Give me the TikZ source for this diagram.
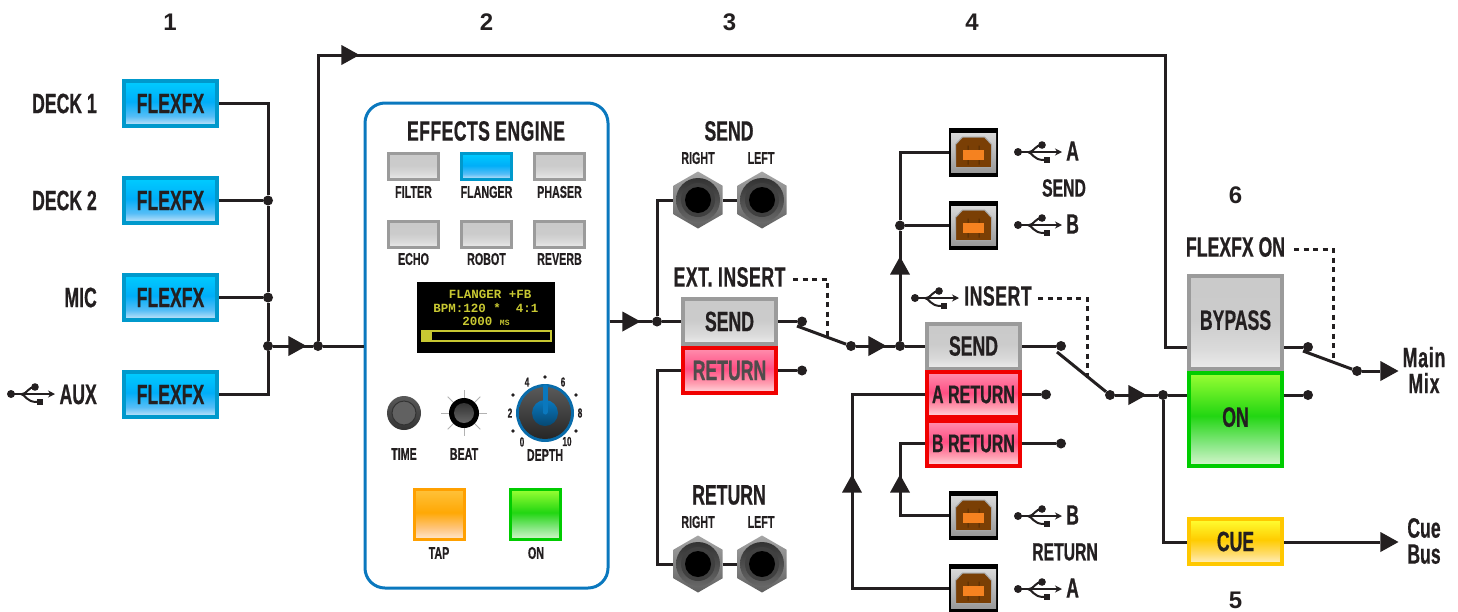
\documentclass[tikz,border=0pt]{standalone}
\usepackage{fontspec}
\usetikzlibrary{shapes.geometric,arrows.meta}
\setmainfont{Liberation Sans}[FakeStretch=0.63,BoldFeatures={FakeBold=0.6}]
\newfontfamily\numfont{Liberation Sans}
\newfontfamily\lcdfont{Liberation Mono}

\definecolor{ink}{HTML}{231F20}
\definecolor{panelblue}{HTML}{0A78BE}
\definecolor{lcdtext}{HTML}{C8C832}
\definecolor{blueedge}{HTML}{0099CC}
\definecolor{grayedge}{HTML}{9B9B9B}
\definecolor{rededge}{HTML}{F00000}
\definecolor{greenedge}{HTML}{00CC00}
\definecolor{orangeedge}{HTML}{FFA000}
\definecolor{yellowedge}{HTML}{FFC800}
\definecolor{plugbrown}{HTML}{7A3F05}
\definecolor{plugtab}{HTML}{F58220}

\newcommand{\glossdef}[5]{%
  \definecolor{#1a}{HTML}{#2}\definecolor{#1b}{HTML}{#3}\definecolor{#1c}{HTML}{#4}\definecolor{#1d}{HTML}{#5}%
  \pgfdeclareverticalshading{gloss#1}{100bp}{color(0bp)=(#1a); color(26bp)=(#1a); color(36bp)=(#1b); color(52bp)=(#1c); color(75bp)=(#1d); color(100bp)=(#1d)}}
\glossdef{blue}{C5E4F8}{55BDF7}{00AEF8}{00CCFF}
\glossdef{gray}{EAEAEA}{DADADA}{CBCBCB}{CACACA}
\glossdef{red}{FFD6DC}{FF9DB0}{FF4F84}{FF8FAE}
\glossdef{green}{D0F5C8}{8CE888}{22D612}{99FF33}
\glossdef{orange}{FFE6CC}{FFC680}{FFA805}{FFC23A}
\glossdef{yellow}{FFF0C0}{FFDD70}{FFCC00}{FFFF33}

\begin{document}
\begin{tikzpicture}[x=1pt,y=-1pt,
    wire/.style={draw=ink,line width=3pt},
    ctrl/.style={draw=ink,line width=3pt,dash pattern=on 5pt off 4.5pt},
    joint/.style={circle,fill=ink,inner sep=0pt,minimum size=10pt},
    tri/.style={isosceles triangle,isosceles triangle stretches,fill=ink,inner sep=0pt,minimum width=20pt,minimum height=18pt,anchor=apex},
    button/.style={draw=#1edge,shade,shading=gloss#1,line width=4pt,inner sep=0pt,text=ink,font=\bfseries\fontsize{28}{30}\selectfont},
    wide/.style={minimum width=93pt,minimum height=45pt},
    tall/.style={minimum width=93pt,minimum height=93pt,text depth=5pt},
    pad/.style={line width=3pt,minimum width=50pt,minimum height=26pt},
    big/.style={line width=3pt,minimum width=50pt,minimum height=50pt},
    title/.style={text=ink,inner sep=0pt,font=\bfseries\fontsize{28}{30}\selectfont},
    tiny/.style={text=ink,inner sep=0pt,font=\bfseries\fontsize{17}{18}\selectfont},
    num/.style={text=ink,inner sep=0pt,font=\numfont\bfseries\fontsize{24}{26}\selectfont},
    lcd/.style={text=lcdtext,inner sep=0pt,font=\lcdfont\bfseries\fontsize{12.5}{14}\selectfont},
    jack/.style={regular polygon,regular polygon sides=6,shape border rotate=30,minimum size=57pt,inner sep=0pt,outer sep=0pt,shade,top color=gray!70,bottom color=gray!75!black},
    usbport/.style={fill=black,minimum size=49pt,inner sep=0pt,outer sep=0pt},
    jackface/.pic={
      \shade[top color=black!80,bottom color=black!60] (0,0) circle (22);
      \fill[black!75] (0,0) circle (17);
      \fill[black] (0,0) circle (13);
    },
    usbface/.pic={
      \shade[top color=black!15,bottom color=black!40] (-22.5,-19.5) rectangle (22.5,19.5);
      \fill[fill=plugbrown,draw=black!35,line width=1pt] (-18,15) -- (-18,-8) -- (-11,-15.5) -- (11,-15.5) -- (18,-8) -- (18,15) -- cycle;
      \fill[plugbrown!70!black] (-6,-7) rectangle (-5,12) (5,-7) rectangle (6,12);
      \fill[plugtab] (-10.5,-3) rectangle (10.5,7);
    },
    usbicon/.pic={
      \fill[ink] (0,0) circle (4);
      \draw[ink,line width=2pt,-{Stealth[length=7pt,width=7pt]}] (0,0) -- (44,0);
      \draw[ink,line width=2pt] (11,0) .. controls (16,0) and (17,-7) .. (24,-7);
      \draw[ink,line width=2pt] (10,0) .. controls (15,1) and (15,8) .. (26,8);
      \fill[ink] (24,-7) circle (3.8);
      \fill[ink] (26,5) rectangle (32,11);
    }]
  \useasboundingbox (0,0) rectangle (1458,611);

  % numbers
  \node[num] (numA) at (170,22) {1};
  \node[num] (numB) at (486.5,22) {2};
  \node[num] (numC) at (729.5,22) {3};
  \node[num] (numD) at (972,22) {4};
  \node[num] (numF) at (1235.5,195) {6};
  \node[num] (numE) at (1235.5,600) {5};

  % inputs
  \foreach \n/\t/\y in {A/DECK 1/103.5,B/DECK 2/200.5,C/MIC/297.5,D/AUX/394.5}{
    \node[button=blue,wide] (flex\n) at (170.5,\y) {FLEXFX};
    \node[title,anchor=east] (in\n) at (97,\y) {\t};
  }
  \pic at (11,394) {usbicon};

  % effects panel
  \node[draw=panelblue,line width=3pt,rounded corners=20pt,minimum width=243pt,minimum height=485pt,inner sep=0pt] (engine) at (486.5,345.5) {};
  \node[title] (engineTitle) at (486,131) {\addfontfeature{LetterSpace=1.5}EFFECTS ENGINE};
  \foreach \n/\c/\x/\y/\ly in {FILTER/gray/413.5/166.5/192,FLANGER/blue/486.5/166.5/192,PHASER/gray/559.5/166.5/192,ECHO/gray/413.5/234.5/259,ROBOT/gray/486.5/234.5/259,REVERB/gray/559.5/234.5/259}{
    \node[button=\c,pad] (pad\n) at (\x,\y) {};
    \node[tiny] (lbl\n) at (\x,\ly) {\n};
  }

  % display
  \node[fill=black,minimum width=138pt,minimum height=71pt,inner sep=0pt] (screen) at (486,317.5) {};
  \node[lcd] (lcdA) at (490,294) {FLANGER +FB};
  \node[lcd] (lcdB) at (486,308) {BPM:120 *\ \ 4:1};
  \node[lcd] (lcdC) at (486,321) {2000 {\fontsize{8}{9}\selectfont MS}};
  \draw[lcdtext,line width=1.2pt] (422,331) rectangle (551,341);
  \fill[lcdtext] (422,331) rectangle (432,341);

  % knobs
  \shade[top color=black!65,bottom color=black!80] (404,413) circle (17);
  \draw[black!80,fill=black!62,line width=1pt] (404,413) circle (12);
  \foreach \a in {0,45,...,315}{
    \draw[black!30,line width=1pt] (464,413) -- ++(\a:23);
  }
  \fill[black] (464,413) circle (15);
  \shade[top color=black!80,bottom color=black!60] (464,413) circle (10);
  \fill[panelblue!90!black] (545,413) circle (29);
  \shade[top color=black!65,bottom color=black!85] (545,413) circle (26);
  \shade[top color=panelblue,bottom color=panelblue!60!black] (545,413) circle (13);
  \draw[panelblue,line width=5pt,line cap=round] (545,412) -- (545,387);
  \foreach \x/\y in {545/377,513/395,576/395,513/431,576/431}{
    \fill[ink] (\x,\y) circle (1.8);
  }
  \foreach \t/\x/\y in {0/522/442,2/510/413,4/527/382,6/563/382,8/580/413,10/567/441.5}{
    \node[tiny,font=\bfseries\fontsize{13}{15}\selectfont] (tick\t) at (\x,\y) {\t};
  }
  \node[tiny] (lblTime) at (404,454) {TIME};
  \node[tiny] (lblBeat) at (464,454) {BEAT};
  \node[tiny] (lblDepth) at (545,455) {DEPTH};

  \node[button=orange,big] (padTap) at (439.5,514.5) {};
  \node[button=green,big] (padOn) at (535.5,514.5) {};
  \node[tiny] (lblTap) at (439,553) {TAP};
  \node[tiny] (lblOn) at (536,553) {ON};

  % external insert
  \node[title] (sendTitle) at (729,131) {SEND};
  \node[tiny] (sendR) at (698,158) {RIGHT};
  \node[tiny] (sendL) at (761,158) {LEFT};
  \node[jack] (jackSR) at (698,200) {};
  \node[jack] (jackSL) at (762,200) {};
  \node[title] (retTitle) at (729,495) {RETURN};
  \node[tiny] (retR) at (698,522) {RIGHT};
  \node[tiny] (retL) at (761,522) {LEFT};
  \node[jack] (jackRR) at (698,564) {};
  \node[jack] (jackRL) at (762,564) {};
  \foreach \n in {jackSR,jackSL,jackRR,jackRL}{
    \pic at (\n) {jackface};
  }
  \node[title] (extLbl) at (729.5,277) {\addfontfeature{LetterSpace=2}EXT. INSERT};
  \node[button=gray,wide] (extSend) at (729.5,321.5) {SEND};
  \node[button=red,wide,text=ink!80] (extRet) at (729.5,370.5) {RETURN};

  % usb insert
  \foreach \n/\y in {SA/152.5,SB/225.5,RB/515.5,RA/588.5}{
    \node[usbport] (usb\n) at (973.5,\y) {};
    \pic at (usb\n) {usbface};
  }
  \pic at (1018,152) {usbicon};
  \pic at (1018,225) {usbicon};
  \pic at (1018,516) {usbicon};
  \pic at (1018,589) {usbicon};
  \pic at (915,298) {usbicon};
  \node[title,anchor=west] (usbSAlbl) at (1066,151) {A};
  \node[title,anchor=west] (usbSBlbl) at (1066,224) {B};
  \node[title,anchor=west] (usbRBlbl) at (1066,515) {B};
  \node[title,anchor=west] (usbRAlbl) at (1066,588) {A};
  \node[title,font=\bfseries\fontsize{25}{26}\selectfont] (usbSend) at (1064,188) {SEND};
  \node[title,font=\bfseries\fontsize{25}{26}\selectfont] (usbRet) at (1065,552) {RETURN};
  \node[title,anchor=west] (insLbl) at (964,296) {\addfontfeature{LetterSpace=2}INSERT};
  \node[button=gray,wide] (insSend) at (973.5,346) {SEND};
  \node[button=red,wide,font=\bfseries\fontsize{25.5}{28}\selectfont] (insA) at (973.5,394.5) {A RETURN};
  \node[button=red,wide,font=\bfseries\fontsize{25.5}{28}\selectfont] (insB) at (973.5,443.5) {B RETURN};

  % output section
  \node[title] (fxLbl) at (1235.5,247) {FLEXFX ON};
  \node[button=gray,tall] (bypass) at (1235.5,322.5) {BYPASS};
  \node[button=green,tall] (fxOn) at (1235.5,419.5) {ON};
  \node[button=yellow,wide] (cue) at (1235.5,541.5) {CUE};
  \node[title,align=center,font=\bfseries\fontsize{28}{26}\selectfont] (mainLbl) at (1424,370) {\addfontfeature{LetterSpace=3}Main\\\addfontfeature{LetterSpace=3}Mix};
  \node[title,align=center,font=\bfseries\fontsize{28}{26}\selectfont] (cueLbl) at (1424,541) {Cue\\Bus};

  % joints
  \node[joint] (jb) at (268,200.5) {};
  \node[joint] (jc) at (268,297.5) {};
  \node[joint] (jm) at (268,346) {};
  \node[joint] (js) at (318,346) {};
  \node[joint] (jf) at (657,321.5) {};
  \node[joint] (extTop) at (802,321.5) {};
  \node[joint] (extBot) at (802,370.5) {};
  \node[joint] (swA) at (851,346) {};
  \node[joint] (jd) at (900,346) {};
  \node[joint] (je) at (900,225.5) {};
  \node[joint] (insTop) at (1061,346) {};
  \node[joint] (insMid) at (1046,394.5) {};
  \node[joint] (insBot) at (1061,443.5) {};
  \node[joint] (swB) at (1110,395) {};
  \node[joint] (jo) at (1163,395) {};
  \node[joint] (fxTop) at (1308,347) {};
  \node[joint] (fxBot) at (1308,395) {};
  \node[joint] (swC) at (1357,371) {};

  % triangles
  \node[tri] (triIn) at (307,346) {};
  \node[tri] (triTop) at (360,55) {};
  \node[tri] (triOut) at (641,321.5) {};
  \node[tri] (triExt) at (887,346) {};
  \node[tri] (triIns) at (1147,395) {};
  \node[tri] (triMain) at (1399,371) {};
  \node[tri] (triCue) at (1399,542) {};
  \node[tri,shape border rotate=90] (triUp) at (900,256) {};
  \node[tri,shape border rotate=90] (triA) at (852,474) {};
  \node[tri,shape border rotate=90] (triB) at (900,474) {};

  % helper coordinates
  \coordinate (topL) at (318,55);
  \coordinate (topR) at (1165,55);
  \coordinate (bypassIn) at (1187,347);
  \coordinate (cueCorner) at (1163,542);
  \coordinate (armA) at (797,326);
  \coordinate (armB) at (1057,352);
  \coordinate (armC) at (1303,351);
  \coordinate (extStart) at (793,279);
  \coordinate (extEnd) at (827,337);
  \coordinate (insStart) at (1038,298);
  \coordinate (insEnd) at (1087,379);
  \coordinate (fxStart) at (1294,249);
  \coordinate (fxEnd) at (1333,360);

  % connectors
  \draw[wire] (flexA.east) -| (jb);
  \draw[wire] (flexB.east) -- (jb);
  \draw[wire] (flexC.east) -- (jc);
  \draw[wire] (flexD.east) -| (jm);
  \draw[wire] (jb) -- (jc);
  \draw[wire] (jc) -- (jm);
  \draw[wire] (jm) -- (js);
  \draw[wire] (js) -- (engine.west |- js);
  \draw[wire] (js) -- (topL) -- (topR) |- (bypassIn);
  \draw[wire] (engine.east |- jf) -- (jf);
  \draw[wire] (jf) -- (extSend.west);
  \draw[wire] (jf) |- (jackSR.west);
  \draw[wire] (jackSR.east) -- (jackSL.west);
  \draw[wire] (extRet.west) -- (extRet.west -| jf) |- (jackRR.west);
  \draw[wire] (jackRR.east) -- (jackRL.west);
  \draw[wire] (extSend.east) -- (extTop);
  \draw[wire] (extRet.east) -- (extBot);
  \draw[wire] (armA) -- (swA);
  \draw[wire] (swA) -- (jd);
  \draw[wire] (jd) -- (insSend.west);
  \draw[wire] (jd) -- (je);
  \draw[wire] (je) -- (usbSB.west);
  \draw[wire] (je) |- (usbSA.west);
  \draw[wire] (insA.west) -- (insA.west -| triA) -- (triA |- usbRA) -- (usbRA.west);
  \draw[wire] (insB.west) -- (insB.west -| triB) |- (usbRB.west);
  \draw[wire] (insSend.east) -- (insTop);
  \draw[wire] (insA.east) -- (insMid);
  \draw[wire] (insB.east) -- (insBot);
  \draw[wire] (armB) -- (swB);
  \draw[wire] (swB) -- (jo);
  \draw[wire] (jo) -- (fxOn.west |- jo);
  \draw[wire] (jo) -- (cueCorner) -- (cue.west |- cueCorner);
  \draw[wire] (cue.east |- cueCorner) -- (triCue);
  \draw[wire] (bypass.east |- fxTop) -- (fxTop);
  \draw[wire] (fxOn.east |- fxBot) -- (fxBot);
  \draw[wire] (armC) -- (swC);
  \draw[wire] (swC) -- (triMain);
  \draw[ctrl] (extStart) -| (extEnd);
  \draw[ctrl] (insStart) -| (insEnd);
  \draw[ctrl] (fxStart) -| (fxEnd);
\end{tikzpicture}
\end{document}
